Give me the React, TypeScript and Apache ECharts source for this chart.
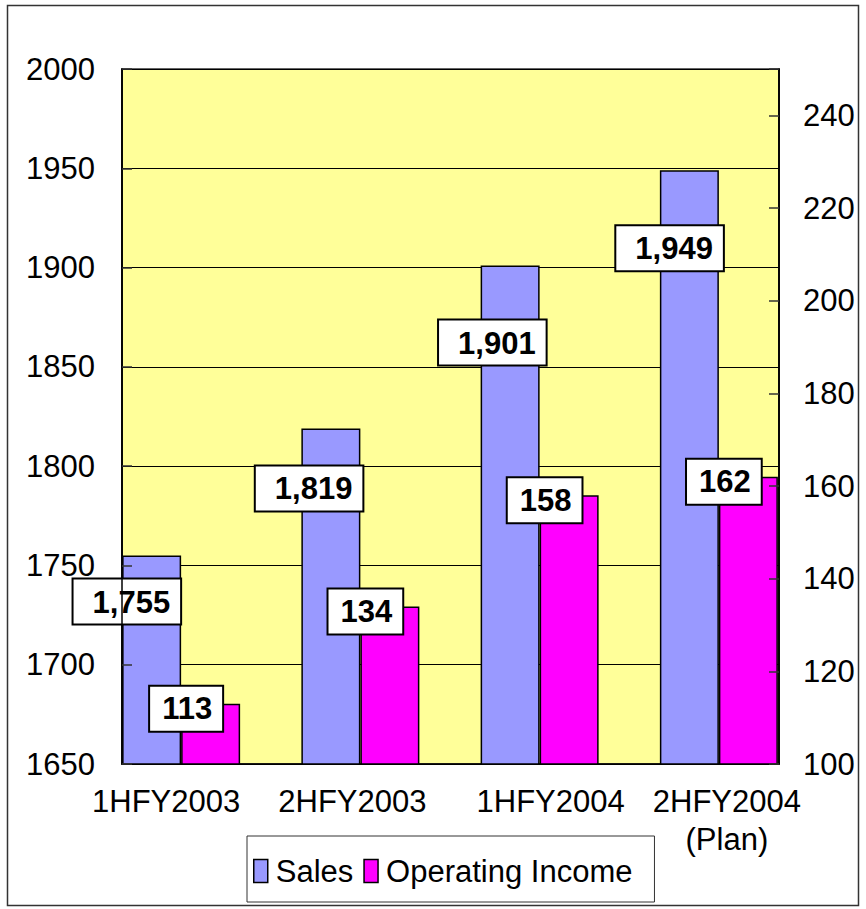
import React, { useEffect, useRef } from 'react';
import * as echarts from 'echarts';

// Half-year periods shown along the bottom
const categories = ['1HFY2003', '2HFY2003', '1HFY2004', '2HFY2004\n(Plan)'];

// Sales (left axis) and operating income (right axis)
const sales = [1755, 1819, 1901, 1949];
const operatingIncome = [113, 134, 158, 162];

// Axis scales
const salesScale = { min: 1650, max: 2000, interval: 50 };
const incomeScale = { min: 100, max: 250, interval: 20 };

// Hand-placed value callouts for the sales bars: [dx, dy] from the bar's top-right corner
const salesCalloutNudge: [number, number][] = [
  [-1, 24],
  [2, 38],
  [6, 55],
  [4, 56],
];

// Horizontal nudge of each category caption
const captionShift = [-15, -8, 11, 8];

const SANS = "'Liberation Sans', Arial, Helvetica, sans-serif";

const SALES_COLOR = '#9999FF';
const INCOME_COLOR = '#FF00FF';
const PLOT_BG = '#FFFF99';

// Plot frame (yellow area) and the slightly wider band grid that carries the bars
const plotGrid = { left: 122, right: 87, top: 69, bottom: 145 };
const barGrid = { left: 91.5, right: 57.5, top: 69, bottom: 145 };

function buildOption(): echarts.EChartsCoreOption {
  const captionRich: Record<string, any> = {};
  captionShift.forEach((s, i) => {
    captionRich['c' + i] = {
      fontFamily: SANS,
      fontSize: 31,
      lineHeight: 38,
      color: '#000',
      padding: s < 0 ? [0, -2 * s, 0, 0] : [0, 0, 0, 2 * s],
    };
  });

  const calloutBox = {
    show: true,
    color: '#000',
    fontFamily: SANS,
    fontSize: 31,
    fontWeight: 'bold' as const,
    lineHeight: 33,
    backgroundColor: '#fff',
    borderColor: '#000',
    borderWidth: 2,
    formatter: (p: any) => Number(p.value).toLocaleString('en-US'),
  };

  const tickLabel = {
    fontFamily: SANS,
    fontSize: 31,
    color: '#000',
    formatter: (v: number) => String(v),
  };

  return {
    animation: false,
    backgroundColor: '#fff',
    grid: [
      {
        ...plotGrid,
        show: true,
        backgroundColor: PLOT_BG,
        borderColor: '#333',
        borderWidth: 1.5,
      },
      { ...barGrid, show: false },
    ],
    legend: {
      data: ['Sales', 'Operating Income'],
      left: 247,
      top: 836,
      orient: 'horizontal',
      icon: 'rect',
      itemWidth: 14,
      itemHeight: 23,
      itemGap: 10,
      padding: [13, 22, 9, 6],
      borderColor: '#333',
      borderWidth: 1,
      backgroundColor: '#fff',
      itemStyle: { borderColor: '#000', borderWidth: 1.5 },
      textStyle: {
        fontFamily: SANS,
        fontSize: 31,
        lineHeight: 44,
        color: '#000',
        padding: [0, 0, 0, 3],
      },
    },
    xAxis: [
      {
        type: 'category',
        gridIndex: 0,
        data: categories,
        axisLine: { show: true, lineStyle: { color: '#000', width: 1.5 } },
        axisTick: { show: false },
        axisLabel: { show: false },
        splitLine: { show: false },
      },
      {
        type: 'category',
        gridIndex: 1,
        data: categories,
        axisLine: { show: false },
        axisTick: { show: false },
        splitLine: { show: false },
        axisLabel: {
          show: true,
          interval: 0,
          margin: 18,
          formatter: (value: string, index: number) =>
            value
              .split('\n')
              .map((line) => `{c${index}|${line}}`)
              .join('\n'),
          rich: captionRich,
        },
      },
    ],
    yAxis: [
      // Sales axis with labels and grid lines
      {
        type: 'value',
        gridIndex: 0,
        position: 'left',
        ...salesScale,
        axisLine: { show: true, lineStyle: { color: '#000', width: 1.5 } },
        axisTick: { show: false },
        axisLabel: { ...tickLabel, margin: 27 },
        splitLine: { show: true, lineStyle: { color: '#000', width: 1 } },
      },
      // Operating income axis with labels
      {
        type: 'value',
        gridIndex: 0,
        position: 'right',
        ...incomeScale,
        axisLine: { show: true, lineStyle: { color: '#000', width: 1.5 } },
        axisTick: { show: false },
        axisLabel: { ...tickLabel, margin: 24, showMaxLabel: false },
        splitLine: { show: false },
      },
      // Value axes used by the bars
      {
        type: 'value',
        gridIndex: 1,
        position: 'left',
        ...salesScale,
        show: false,
      },
      {
        type: 'value',
        gridIndex: 1,
        position: 'right',
        ...incomeScale,
        show: false,
      },
      // Inner tick marks, drawn over the bars
      {
        type: 'value',
        gridIndex: 0,
        position: 'left',
        ...salesScale,
        z: 5,
        axisLine: { show: true, lineStyle: { color: '#000', width: 1.5 } },
        axisTick: { show: true, inside: true, length: 10, lineStyle: { color: '#333', width: 1.5 } },
        axisLabel: { show: false },
        splitLine: { show: false },
      },
      {
        type: 'value',
        gridIndex: 0,
        position: 'right',
        ...incomeScale,
        z: 5,
        axisLine: { show: true, lineStyle: { color: '#000', width: 1.5 } },
        axisTick: { show: true, inside: true, length: 10, lineStyle: { color: '#333', width: 1.5 } },
        axisLabel: { show: false },
        splitLine: { show: false },
      },
    ],
    series: [
      {
        name: 'Sales',
        type: 'bar',
        xAxisIndex: 1,
        yAxisIndex: 2,
        barWidth: 59,
        barGap: '0%',
        itemStyle: { color: SALES_COLOR, borderColor: '#000', borderWidth: 1.5 },
        label: {
          ...calloutBox,
          position: ['100%', 0],
          align: 'right',
          verticalAlign: 'top',
          padding: [6, 10, 5, 19],
        },
        data: sales.map((v, i) => ({
          value: v,
          label: { offset: salesCalloutNudge[i] },
        })),
      },
      {
        name: 'Operating Income',
        type: 'bar',
        xAxisIndex: 1,
        yAxisIndex: 3,
        barWidth: 59,
        barGap: '0%',
        itemStyle: { color: INCOME_COLOR, borderColor: '#000', borderWidth: 1.5 },
        label: {
          ...calloutBox,
          position: ['0%', 0],
          align: 'center',
          verticalAlign: 'middle',
          offset: [5, 5],
          padding: [6, 10, 5, 12],
        },
        data: operatingIncome,
      },
    ],
    graphic: [
      {
        type: 'rect',
        shape: { x: 7.5, y: 5.5, width: 851, height: 900 },
        style: { fill: 'none', stroke: '#333', lineWidth: 1.5 },
        silent: true,
        z: -1,
      },
    ],
  };
}

export default function App() {
  const ref = useRef<HTMLDivElement>(null);

  useEffect(() => {
    if (!ref.current) return;
    const chart = echarts.init(ref.current, null, { renderer: 'svg' });
    chart.setOption(buildOption());
    return () => chart.dispose();
  }, []);

  return (
    <div
      ref={ref}
      style={{ position: 'fixed', left: 0, top: 0, width: 866, height: 909, background: '#fff' }}
    />
  );
}
